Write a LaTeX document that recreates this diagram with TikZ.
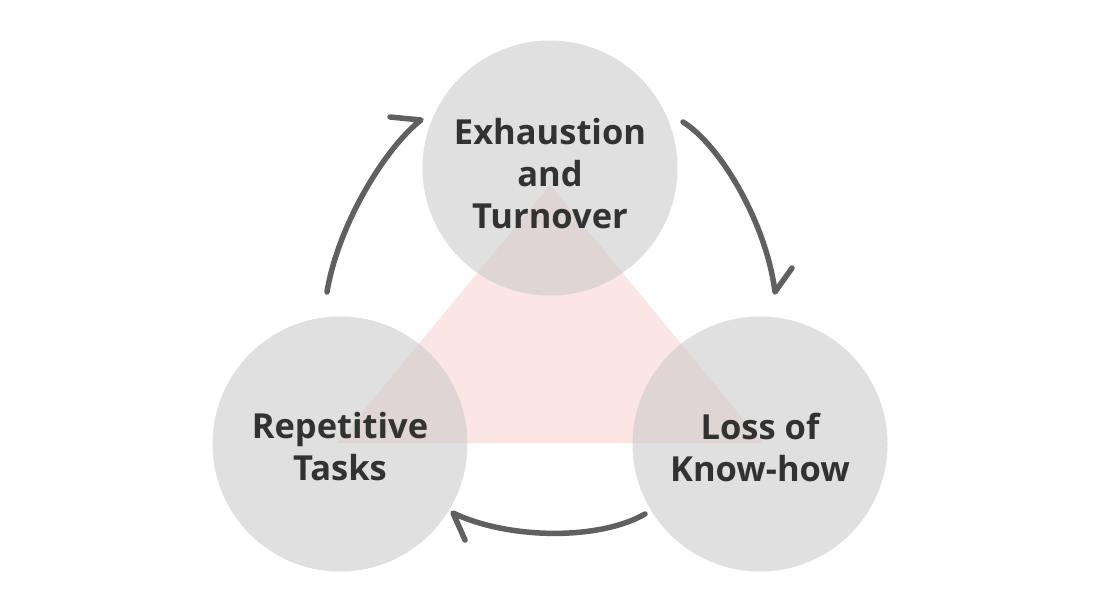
\documentclass[tikz,border=0pt]{standalone}
\usepackage{fontspec}
\setmainfont{Open Sans}
\definecolor{txt}{RGB}{50,50,50}
\definecolor{arrowgray}{RGB}{96,96,96}
\definecolor{pinkfill}{RGB}{251,229,229}
\definecolor{bubgray}{RGB}{200,200,200}
\begin{document}
\begin{tikzpicture}[x=1pt,y=-1pt,
  bub/.style={circle, minimum size=255pt, inner sep=0pt, fill=bubgray, fill opacity=0.55},
  lbl/.style={text=txt, font=\fontsize{34.5}{42}\selectfont\bfseries, align=center, inner sep=0pt},
  flow/.style={line width=5.5pt, draw=arrowgray, line cap=round, line join=round}]
\useasboundingbox (0,0) rectangle (1100,614);
\fill[white] (0,0) rectangle (1100,614);
% triangle
\coordinate (ta) at (550,185);
\coordinate (tl) at (337,443);
\coordinate (tr) at (763,443);
\fill[pinkfill] (ta) -- (tl) -- (tr) -- cycle;
% bubbles
\node[bub] (top) at (550,168) {};
\node[bub] (left) at (340,444) {};
\node[bub] (right) at (760,444) {};
\node[lbl] (topt) at (550,174) {Exhaustion\\and\\Turnover};
\node[lbl] (leftt) at (340,447) {Repetitive\\Tasks};
\node[lbl] (rightt) at (760,447) {Loss of\\Know-how};
% arrow ends
\coordinate (a1s) at (327,292);
\coordinate (a1e) at (421,120);
\coordinate (a2s) at (683,122);
\coordinate (a2e) at (775,292);
\coordinate (a3s) at (645,514);
\coordinate (a3e) at (453,513);
\draw[flow] (a1s) .. controls (338,225) and (385,148) .. (a1e) -- ++(-31,-3);
\draw[flow] (a2s) .. controls (720,145) and (766,222) .. (a2e) -- ++(17,-24);
\draw[flow] (a3s) .. controls (600,540) and (510,540) .. (a3e) -- ++(12,27);
\end{tikzpicture}
\end{document}
